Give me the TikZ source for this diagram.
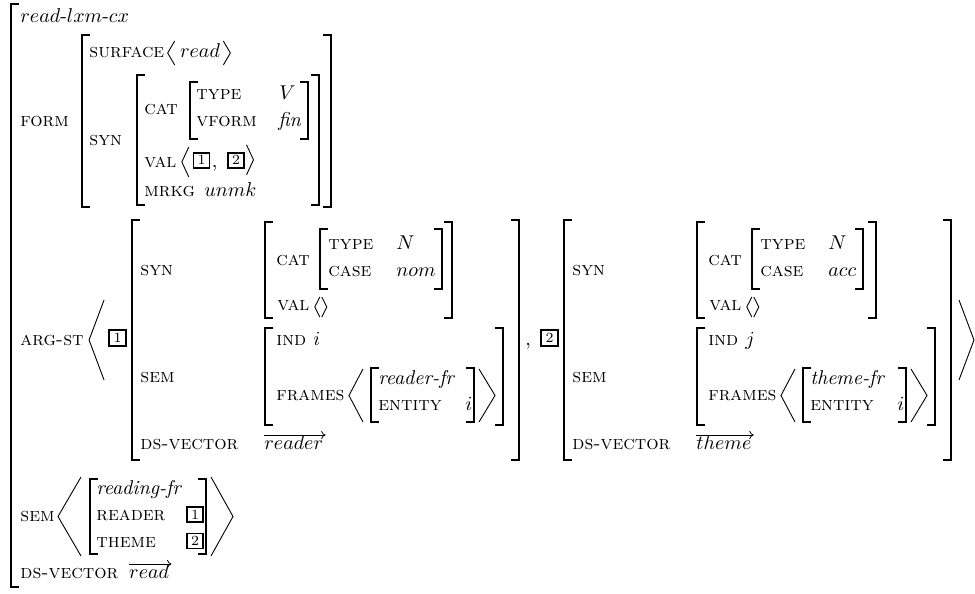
\documentclass[tikz,border=0pt]{standalone}
\usetikzlibrary{arrows.meta,calc}
\tikzset{
  att/.style={anchor=base west, inner sep=0pt, font=\fontsize{9.7}{12}\selectfont\scshape},
  val/.style={anchor=base west, inner sep=0pt},
  brk/.style={line width=0.65pt, line cap=butt, line join=miter},
  ang/.style={line width=0.45pt, line join=miter},
  tagbox/.style={draw, line width=0.8pt, inner sep=0pt, minimum width=8pt, minimum height=7.5pt, font=\scriptsize},
  bigtag/.style={tagbox, minimum width=8.5pt, minimum height=8pt},
  vecarrow/.style={line width=0.4pt, -{Computer Modern Rightarrow[length=2.2pt,width=4pt]}},
}
% left bracket: x, top, bottom
\newcommand\LBr[3]{\draw[brk] ({#1+8},#2) -- (#1,#2) -- (#1,#3) -- ({#1+8},#3);}
% right bracket: x, top, bottom
\newcommand\RBr[3]{\draw[brk] ({#1-8},#2) -- (#1,#2) -- (#1,#3) -- ({#1-8},#3);}
% angle: tip x, arm x, top, bottom
\newcommand\Ang[4]{\draw[ang] (#2,#3) -- (#1,{(#3+#4)/2}) -- (#2,#4);}
% opening angle after a node: node, gap, dy (centre - baseline), width, height
\newcommand\AngAfter[5]{\draw[ang] ($(#1.base east)+({#2+#4},{#3-#5/2})$) -- ($(#1.base east)+(#2,#3)$) -- ($(#1.base east)+({#2+#4},{#3+#5/2})$);}
% closing angle after a node: node, gap, dy, width, height
\newcommand\RAngAfter[5]{\draw[ang] ($(#1.base east)+(#2,{#3-#5/2})$) -- ($(#1.base east)+({#2+#4},#3)$) -- ($(#1.base east)+(#2,{#3+#5/2})$);}
\begin{document}
\begin{tikzpicture}[x=0.5pt,y=-0.5pt]
\useasboundingbox (0,0) rectangle (975,594);
% ---------- outer ----------
\LBr{11}{4}{587}
\node[val] (typ) at (20,22) {$read$-$lxm$-$cx$};
% ---------- FORM ----------
\node[att] (formL) at (20,126) {form};
\LBr{82}{35}{207} \RBr{331}{35}{207}
\node[att] (surf) at (89,57) {surface};
\AngAfter{surf}{3}{-4}{7}{24}
\node[val] (surfv) at ($(surf.base east)+(15,0)$) {$read$};
\RAngAfter{surfv}{3}{-4}{7}{24}
\node[att] (synF) at (89,145) {syn};
\LBr{137}{75}{205} \RBr{319}{75}{205}
\node[att] (catF) at (144,114) {cat};
\LBr{190}{82}{139} \RBr{308}{82}{139}
\node[att] (typeF) at (196,99) {type};
\node[val] (typeFv) at (279,99) {$V$};
\node[att] (vformF) at (196,126) {vform};
\node[val] (vformFv) at (278,126) {\textit{fin}};
\node[att] (valF) at (144,167) {val};
\AngAfter{valF}{5}{-5}{7}{30}
\node[tagbox, anchor=south west] (valF1) at ($(valF.base east)+(16,1.5)$) {1};
\node[val] (valFc) at ($(valF1.south east)+(1,-1.5)$) {,};
\node[tagbox, anchor=south west] (valF2) at ($(valF1.south east)+(17,0)$) {2};
\RAngAfter{valF2}{1.5}{-5}{7}{30}
\node[att] (mrkg) at (144,196) {mrkg};
\node[val] (mrkgv) at (204,196) {$unmk$};
% ---------- ARG-ST ----------
\node[att] (argst) at (20,345) {arg-st};
\AngAfter{argst}{5}{-5}{15}{80}
\node[bigtag] (arg1) at (117.5,338) {1};
% member 1
\LBr{132}{220}{460} \RBr{519}{220}{460}
\node[att] (m1syn) at (140,275) {syn};
\LBr{265}{222}{318} \RBr{452}{222}{318}
\node[att] (m1cat) at (276,265) {cat};
\LBr{320}{229}{289} \RBr{442}{229}{289}
\node[att] (m1type) at (328,249) {type};
\node[val] (m1typev) at (396,249) {$N$};
\node[att] (m1case) at (328,276) {case};
\node[val] (m1casev) at (396,276) {$nom$};
\node[att] (m1val) at (277,310) {val};
\AngAfter{m1val}{5}{-3}{5}{20}
\RAngAfter{m1val}{12}{-3}{5}{20}
\node[att] (m1sem) at (140,382) {sem};
\LBr{265}{328}{425} \RBr{503}{328}{425}
\node[att] (m1ind) at (276,345) {ind};
\node[val] (m1indv) at (313,345) {$i$};
\node[att] (m1fr) at (276,400) {frames};
\AngAfter{m1fr}{4}{-4.5}{14}{53}
\LBr{371}{368}{422} \RBr{474}{368}{422}
\node[val] (m1frt) at (378,384) {\textit{reader-fr}};
\node[att] (m1ent) at (378,410) {entity};
\node[val] (m1entv) at (465,410) {$i$};
\Ang{495}{479}{369}{422}
\node[att] (m1ds) at (140,449) {ds-vector};
\node[val] (m1dsv) at (264,449) {$reader$};
\draw[vecarrow] ([yshift=7pt]m1dsv.base west) -- ([yshift=7pt,xshift=1pt]m1dsv.base east);
% comma and tag 2
\node[val] (argc) at (525,345) {,};
\node[bigtag] (arg2) at (549.5,338) {2};
% member 2
\LBr{564}{220}{460} \RBr{951}{220}{460}
\node[att] (m2syn) at (572,275) {syn};
\LBr{697}{222}{318} \RBr{876}{222}{318}
\node[att] (m2cat) at (708,265) {cat};
\LBr{752}{229}{289} \RBr{863}{229}{289}
\node[att] (m2type) at (760,249) {type};
\node[val] (m2typev) at (828,249) {$N$};
\node[att] (m2case) at (760,276) {case};
\node[val] (m2casev) at (828,276) {$acc$};
\node[att] (m2val) at (709,310) {val};
\AngAfter{m2val}{5}{-3}{5}{20}
\RAngAfter{m2val}{12}{-3}{5}{20}
\node[att] (m2sem) at (572,382) {sem};
\LBr{697}{328}{425} \RBr{935}{328}{425}
\node[att] (m2ind) at (708,345) {ind};
\node[val] (m2indv) at (745,345) {$j$};
\node[att] (m2fr) at (708,400) {frames};
\AngAfter{m2fr}{4}{-4.5}{14}{53}
\LBr{803}{368}{422} \RBr{906}{368}{422}
\node[val] (m2frt) at (810,384) {\textit{theme-fr}};
\node[att] (m2ent) at (810,410) {entity};
\node[val] (m2entv) at (897,410) {$i$};
\Ang{927}{911}{369}{422}
\node[att] (m2ds) at (572,449) {ds-vector};
\node[val] (m2dsv) at (696,449) {$theme$};
\draw[vecarrow] ([yshift=7pt]m2dsv.base west) -- ([yshift=7pt,xshift=1pt]m2dsv.base east);
\Ang{974}{959}{300}{380}
% ---------- SEM ----------
\node[att] (semL) at (20,521) {sem};
\AngAfter{semL}{3}{-4.5}{23}{79}
\LBr{90}{479}{554} \RBr{206}{479}{554}
\node[val] (rf) at (96,494) {\textit{reading-fr}};
\node[att] (rdr) at (96,520.5) {reader};
\node[tagbox] (rdr1) at (195,514.5) {1};
\node[att] (thm) at (96,547) {theme};
\node[tagbox] (thm2) at (195,541) {2};
\Ang{233}{211}{477}{556}
% ---------- DS-VECTOR ----------
\node[att] (dsL) at (20,578) {ds-vector};
\node[val] (dsv) at ([xshift=5pt]dsL.base east) {$read$};
\draw[vecarrow] ([yshift=7pt]dsv.base west) -- ([yshift=7pt,xshift=1pt]dsv.base east);
\end{tikzpicture}
\end{document}
